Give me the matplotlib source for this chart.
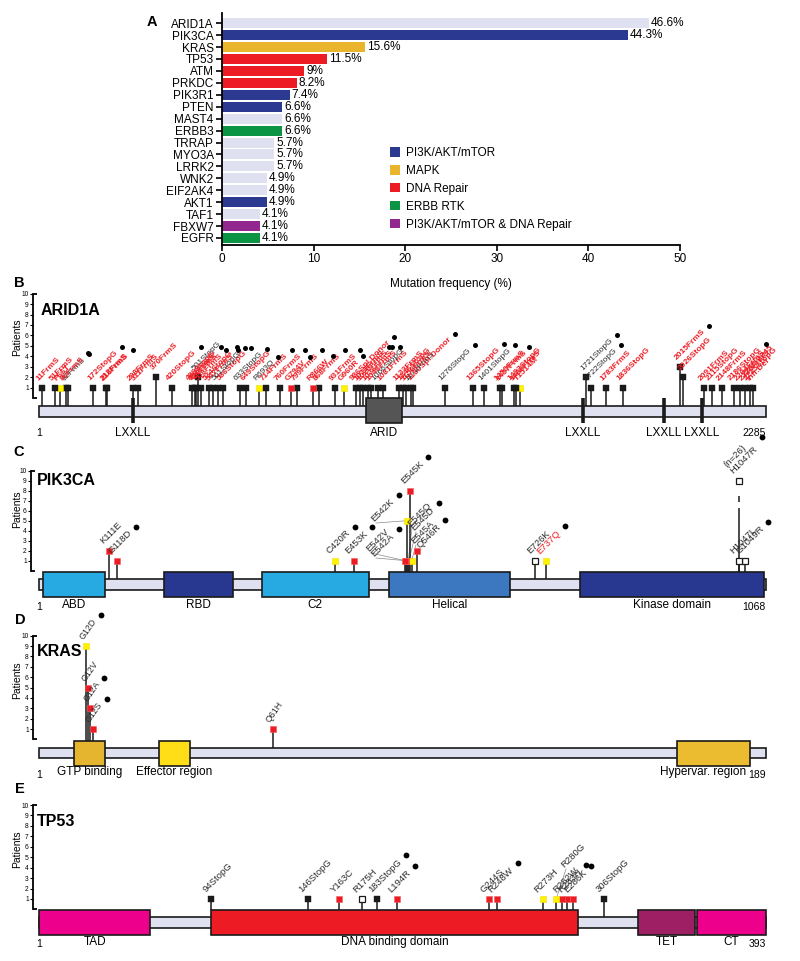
import numpy as np
import matplotlib
matplotlib.use('Agg')
import matplotlib.pyplot as plt
from matplotlib.patches import Rectangle, Patch

plt.rcParams['font.family'] = ['Liberation Sans', 'DejaVu Sans']

W, H = 800, 961

# ---------------- panel A: mutation frequency ----------------
genes = ['ARID1A', 'PIK3CA', 'KRAS', 'TP53', 'ATM', 'PRKDC', 'PIK3R1', 'PTEN', 'MAST4', 'ERBB3',
         'TRRAP', 'MYO3A', 'LRRK2', 'WNK2', 'EIF2AK4', 'AKT1', 'TAF1', 'FBXW7', 'EGFR']
freq = [46.6, 44.3, 15.6, 11.5, 9, 8.2, 7.4, 6.6, 6.6, 6.6, 5.7, 5.7, 5.7, 4.9, 4.9, 4.9, 4.1, 4.1, 4.1]
pathway = ['other', 'pi3k', 'mapk', 'dna', 'dna', 'dna', 'pi3k', 'pi3k', 'other', 'erbb',
           'other', 'other', 'other', 'other', 'other', 'pi3k', 'other', 'both', 'erbb']
path_colors = {'other': '#dfe1f1', 'pi3k': '#2b3990', 'mapk': '#e9b52c', 'dna': '#ed1c24',
               'erbb': '#0b9444', 'both': '#92278f'}
legend_keys = ['pi3k', 'mapk', 'dna', 'erbb', 'both']
legend_names = ['PI3K/AKT/mTOR', 'MAPK', 'DNA Repair', 'ERBB RTK', 'PI3K/AKT/mTOR & DNA Repair']

# ---------------- panel B: ARID1A ----------------
arid_len = 2285
arid_domains = [('ARID', 1029, 1142, '#555555')]
arid_motifs = [296, 1710, 1965, 2084]
arid_pos = [11, 51, 66, 86, 92, 172, 212, 216, 298, 311,
            370, 420, 483, 490, 496, 501, 510, 534, 547, 563,
            580, 633, 653, 693, 716, 758, 793, 811, 863, 882,
            931, 960, 996, 1010, 1020, 1036, 1046, 1066, 1083, 1133,
            1146, 1156, 1169, 1178, 1276, 1365, 1401, 1450, 1457, 1493,
            1499, 1514, 1721, 1735, 1783, 1836, 2015, 2026, 2091, 2115,
            2148, 2186, 2204, 2220, 2235, 2244]
arid_n = [1, 1, 1, 1, 1, 1, 1, 1, 1, 1,
          2, 1, 1, 1, 1, 2, 1, 1, 1, 1,
          1, 1, 1, 1, 1, 1, 1, 1, 1, 1,
          1, 1, 1, 1, 1, 1, 1, 1, 1, 1,
          1, 1, 1, 1, 1, 1, 1, 1, 1, 1,
          1, 1, 2, 1, 1, 1, 3, 2, 1, 1,
          1, 1, 1, 1, 1, 1]
arid_kind = ('kkykkkkkkk' 'kkkkkkkkkk' 'kkkykkrkrk' 'kykkkkkkkk'
             'kkkkkkkkkk' 'kykkkkkkkk' 'kkkkkk')
arid_lab = ['11FrmS', '51FrmS', 'P66T', '86FrmS', '92FrmS', '172StopG', '212FrmS', '216FrmS', '298FrmS', '311FrmS',
            '370FrmS', '420StopG', '486StopG', '492FrmS', '498FrmS', '501StopG', '508FrmS', '534StopG', '547FrmS', '561StopG',
            '586StopG', '633StopG', '649StopG', 'R693Q', '714FrmS', '760FrmS', 'G794V', '799FrmS', 'R866W', '868FrmS',
            '931FrmS', 'G960R', '986Spl.Donor', '1011FrmS', '1020FrmS', '1036FrmS', '1046FrmS', '1066StopG', '1081FrmS', '1133FrmS',
            '1146StopG', '1156FrmS', '1172FrmS', '1180Spl.Donor', '1276StopG', '1365StopG', '1401StopG', '1450FrmS', '1457FrmS', '1493StopG',
            '1499FrmS', 'T1514M', '1721StopG', '1722StopG', '1783FrmS', '1836StopG', '2015FrmS', '2026StopG', '2091FrmS', '2115StopG',
            '2148FrmS', '2186StopG', '2204FrmS', '2220FrmS', '2235StopG', '2240-2245\nInfr.Del']
arid_col = ('rrrrkrrrrr' 'rrrrrkrrrk' 'rkrkrrrrrr' 'rrrrrrrkrr'
            'rrkrkrkrrr' 'rrkkrrrrrr' 'rrrrrr')
arid_dots = ['86FrmS', '92FrmS', '172StopG', '216FrmS', '420StopG', '486StopG', '508FrmS', '534StopG',
             '547FrmS', '561StopG', '586StopG', '633StopG', 'R693Q', '714FrmS', '760FrmS', 'G794V',
             '799FrmS', 'R866W', '868FrmS', '931FrmS', 'G960R', '986Spl.Donor', '1011FrmS', '1020FrmS',
             '1046FrmS', '1180Spl.Donor', '1276StopG', '1365StopG', '1401StopG', '1450FrmS',
             '1721StopG', '1722StopG', '2015FrmS', '2186StopG']

# ---------------- panel C: PIK3CA ----------------
pik_len = 1068
pik_domains = [('ABD', 7, 98, '#27aae1'), ('RBD', 185, 286, '#283891'), ('C2', 328, 485, '#27aae1'),
               ('Helical', 515, 693, '#3b78bf'), ('Kinase domain', 796, 1066, '#283891')]
pik_pos = [104, 116, 436, 463, 539, 540, 541, 545, 543, 544, 548, 556, 730, 745, 1029, 1029, 1037]
pik_n = [2, 1, 1, 1, 1, 1, 5, 8, 1, 1, 1, 2, 1, 1, 26, 1, 1]
pik_kind = 'rryrrryrrryroyooo'
pik_lab = ['K111E', 'G118D', 'C420R', 'E453K', 'E542V', 'E542A', 'E542K', 'E545K', 'E545Q', 'E545D',
           'E545A', 'Q546R', 'E726K', 'E737Q', '(n=26)\nH1047R', 'H1047L', 'G1049R']
pik_col = 'kkkkkkkkkkkkkrkkk'
pik_dots = ['G118D', 'C420R', 'E453K', 'E542A', 'E542K', 'E545K', 'E545D', 'Q546R', 'E737Q',
            '(n=26)\nH1047R', 'G1049R']

# ---------------- panel D: KRAS ----------------
kras_len = 189
kras_domains = [('GTP binding', 10, 18, '#e6b52f'), ('Effector region', 32, 40, '#ffdd17'),
                ('Hypervar. region', 166, 185, '#ebbc2f')]
kras_pos = [13.2, 13.7, 14.3, 14.9, 61.6]
kras_n = [9, 5, 3, 1, 1]
kras_kind = 'yrrrr'
kras_lab = ['G12D', 'G12V', 'G12A', 'G12S', 'Q61H']
kras_col = 'kkkkk'
kras_dots = ['G12D', 'G12A', 'G12S']

# ---------------- panel E: TP53 ----------------
tp53_len = 393
tp53_domains = [('TAD', 1, 61, '#ec008c'), ('DNA binding domain', 94, 292, '#ed1c24'),
                ('TET', 324, 355, '#9e1f63'), ('CT', 356, 393, '#ec008c')]
tp53_pos = [94, 146, 163, 175, 183.5, 194, 244, 248, 273, 280, 283, 285.6, 289, 306]
tp53_n = [1, 1, 1, 1, 1, 1, 1, 1, 1, 1, 1, 1, 1, 1]
tp53_kind = 'kkrokrrryyrrrk'
tp53_lab = ['94StopG', '146StopG', 'Y163C', 'R175H', '183StopG', 'L194R', 'G244S', 'R248W',
            'R273H', 'R280G', 'R282W', 'R283H', 'E286K', '306StopG']
tp53_col = 'kkkkkkkkkkkkkk'
tp53_dots = ['183StopG', 'L194R', 'R248W', 'R283H', 'E286K']

# label anchors moved off their markers (image pixels), with leader lines
label_anchor = {'E542K': (376, 523), 'E542V': (371, 553), 'E542A': (376, 558),
                'E545Q': (412, 528), 'E545D': (416, 532), 'E545A': (416, 545),
                'Q546R': (421, 550), 'R280G': (566, 869)}

MK = {'k': ('#1a1a1a', '#1a1a1a', 0.3), 'r': ('#ed1c24', '#f06060', 0.4),
      'y': ('#fff200', '#f0e000', 0.4), 'o': ('white', '#1a1a1a', 0.9)}
TXT = {'r': '#ed1c24', 'k': '#2b2b2b'}

fig = plt.figure(figsize=(W / 100, H / 100), dpi=100)


def rect(l, t, r, b):
    return [l / W, 1 - b / H, (r - l) / W, (b - t) / H]


# ---------------- draw panel A ----------------
axA = fig.add_axes(rect(222, 13.3, 680, 245))
yy = np.arange(len(genes))
axA.barh(yy, freq, height=0.84, color=[path_colors[p] for p in pathway])
for yi, v in zip(yy, freq):
    axA.text(v + 0.2, yi, f'{v:g}%', va='center', ha='left', fontsize=8.5)
axA.set_xlim(0, 50)
axA.set_ylim(18.59, -0.83)
axA.set_yticks(yy, genes)
axA.set_xticks(range(0, 51, 10))
axA.tick_params(labelsize=8.5, length=4, width=1.2, pad=2)
for s in ['top', 'right']:
    axA.spines[s].set_visible(False)
for s in ['left', 'bottom']:
    axA.spines[s].set_linewidth(1.3)
axA.set_xlabel('Mutation frequency (%)', fontsize=8.5, labelpad=9)
handles = [Patch(facecolor=path_colors[k], edgecolor='none') for k in legend_keys]
axA.legend(handles, legend_names, loc='upper left', bbox_to_anchor=(390 / W, 1 - 147 / H),
           bbox_transform=fig.transFigure, frameon=False, fontsize=8.5, handlelength=0.85,
           handleheight=0.85, handletextpad=0.5, labelspacing=0.5, borderpad=0, borderaxespad=0)
fig.text(152 / W, 1 - 22.5 / H, 'A', fontsize=10.5, fontweight='bold', ha='center', va='center')

dot_jobs = []


def lollipop(geo, length, domains, motifs, pos, n, kind, labels, cols, dots,
             lab_size, msize, dsize, bold_red=False, rot=45, offs=(-3, 3.5)):
    s = (765.7 - 39) / (length - 1)
    ax = fig.add_axes(rect(geo['spine'], geo['top'], 795, geo['bottom']))
    ax.patch.set_visible(False)
    ax.set_xlim(1 - (39 - geo['spine']) / s, 1 + (795 - 39) / s)
    y0, dy = geo['y0'], geo['dy']

    def py(p):
        return (y0 - p) / dy

    ax.set_ylim(py(geo['bottom']), py(geo['top']))
    bar_lo, bar_hi = py(geo['bar'][1]), py(geo['bar'][0])
    dom_lo, dom_hi = py(geo['dom'][1]), py(geo['dom'][0])

    # axis
    ax.spines['left'].set_bounds(0, 10)
    ax.spines['left'].set_linewidth(1.3)
    for sp in ['top', 'right', 'bottom']:
        ax.spines[sp].set_visible(False)
    ax.set_yticks(range(1, 11))
    ax.tick_params(axis='y', labelsize=4.8, length=2, width=0.8, pad=1)
    ax.set_xticks([])
    wpx = ax.get_position().width * W
    for yv in (0, 10):
        ax.plot([0, 4 / wpx], [yv, yv], color='black', lw=1.3, transform=ax.get_yaxis_transform(),
                clip_on=False, solid_capstyle='butt')
    fig.text(16.7 / W, 1 - geo['ylab'] / H, 'Patients', rotation=90, fontsize=7.5,
             ha='center', va='center')

    # protein
    ax.add_patch(Rectangle((1, bar_lo), length - 1, bar_hi - bar_lo, fc='#dfe1f1', ec='#1a1a1a',
                           lw=1.2, zorder=2))
    for name, a, b, col in domains:
        ax.add_patch(Rectangle((a, dom_lo), b - a, dom_hi - dom_lo, fc=col, ec='#1a1a1a',
                               lw=1.2, zorder=3))
        if name == 'Hypervar. region':
            ax.text(b - 1, py(geo['lab']), name, ha='right', va='center', fontsize=8.5)
        else:
            ax.text((a + b) / 2, py(geo['lab']), name, ha='center', va='center', fontsize=8.5)
    for m in motifs:
        ax.plot([m, m], [dom_lo, dom_hi], color='#1a1a1a', lw=2.6, solid_capstyle='butt', zorder=3)
        ax.text(m, py(geo['lab']), 'LXXLL', ha='center', va='center', fontsize=8.5)
    ax.text(1, py(geo['end']), '1', ha='center', va='center', fontsize=7.5)
    ax.text(length, py(geo['end']), str(length), ha='right', va='center', fontsize=7.5)

    # mutations
    order = np.argsort(n)[::-1]
    for i in order:
        p, c, k, lab, lc = pos[i], n[i], kind[i], labels[i], cols[i]
        inside = any(a <= p <= b for _, a, b, _ in domains)
        base = dom_hi if inside else bar_hi
        top = min(c, 9)
        if c > 10:
            for seg in [(base, 6.3), (6.9, 7.5), (8.6, top)]:
                ax.plot([p, p], seg, color='#1a1a1a', lw=1.1, zorder=3.5, solid_capstyle='butt')
        else:
            ax.plot([p, p], [base, top], color='#1a1a1a', lw=1.1, zorder=3.5, solid_capstyle='butt')
        fc, ec, mew = MK[k]
        ax.plot(p, top, marker='s', ms=msize, mfc=fc, mec=ec, mew=mew, zorder=5, clip_on=False)
        weight = 'bold' if (bold_red and lc == 'r') else 'normal'
        if lab in label_anchor:
            ax_x, ax_y = label_anchor[lab]
            xd, yd = ax.transData.inverted().transform((ax_x, H - ax_y))
            ax.plot([xd, p], [yd, top], color='#8a8a8a', lw=0.5, zorder=3)
            t = ax.text(xd, yd, lab, rotation=rot, rotation_mode='anchor', ha='left', va='bottom',
                        fontsize=lab_size, color=TXT[lc], fontweight=weight, zorder=6)
        else:
            t = ax.annotate(lab, xy=(p, top), xytext=offs, textcoords='offset points',
                            rotation=rot, rotation_mode='anchor', ha='left', va='bottom',
                            fontsize=lab_size, color=TXT[lc], fontweight=weight,
                            annotation_clip=False, zorder=6, linespacing=1.0)
        if lab in dots:
            dot_jobs.append((ax, t, dsize))
    return ax


geoB = dict(spine=33, top=286, bottom=445, y0=398.2, dy=10.46, bar=(406.5, 416.7),
            dom=(398.3, 423.3), lab=433, end=433, ylab=337)
geoC = dict(spine=31, top=462, bottom=612, y0=570.7, dy=10.0, bar=(579.3, 590),
            dom=(572.3, 597.3), lab=605, end=606.5, ylab=509)
geoD = dict(spine=33, top=628, bottom=782, y0=739.4, dy=10.37, bar=(748.3, 758.3),
            dom=(740.7, 766), lab=772, end=775, ylab=680)
geoE = dict(spine=33, top=797, bottom=952, y0=909.4, dy=10.44, bar=(916.7, 927.7),
            dom=(910, 935), lab=942, end=944, ylab=849)

lollipop(geoB, arid_len, arid_domains, arid_motifs, arid_pos, arid_n, arid_kind, arid_lab,
         arid_col, arid_dots, lab_size=6, msize=4.3, dsize=3.6, bold_red=True, offs=(-1.5, 4))
lollipop(geoC, pik_len, pik_domains, [], pik_pos, pik_n, pik_kind, pik_lab, pik_col, pik_dots,
         lab_size=6.8, msize=3.7, dsize=4.2)
lollipop(geoD, kras_len, kras_domains, [], kras_pos, kras_n, kras_kind, kras_lab, kras_col,
         kras_dots, lab_size=6.3, msize=3.7, dsize=4.2, rot=55, offs=(-1, 3.5))
lollipop(geoE, tp53_len, tp53_domains, [], tp53_pos, tp53_n, tp53_kind, tp53_lab, tp53_col,
         tp53_dots, lab_size=6.8, msize=3.7, dsize=4.2)

# gene names and panel letters
for name, x, y in [('ARID1A', 40.7, 310.5), ('PIK3CA', 36.7, 481), ('KRAS', 36.7, 651.7),
                   ('TP53', 36.7, 821.7)]:
    fig.text(x / W, 1 - y / H, name, fontsize=11.5, fontweight='bold', ha='left', va='center')
for letter, x, y in [('B', 19, 283), ('C', 19, 451.7), ('D', 20, 620), ('E', 19.5, 789)]:
    fig.text(x / W, 1 - y / H, letter, fontsize=10.5, fontweight='bold', ha='center', va='center')

# black dots at the end of flagged labels
fig.canvas.draw()
for ax, t, ds in dot_jobs:
    bb = t.get_window_extent()
    xd, yd = ax.transData.inverted().transform((bb.x1 + 2.5, bb.y1 + 2))
    ax.plot(xd, yd, 'o', ms=ds, color='black', mec='none', clip_on=False, zorder=7)

fig.savefig('out.png', dpi=100)
